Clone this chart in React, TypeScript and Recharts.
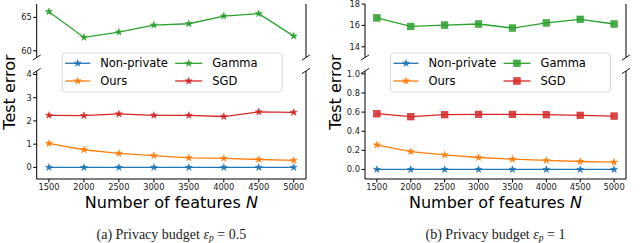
import { LineChart, Line, XAxis, YAxis, ReferenceLine } from 'recharts'

const features = [1500, 2000, 2500, 3000, 3500, 4000, 4500, 5000]
const seriesNames = ['Non-private', 'Ours', 'Gamma', 'SGD']
const seriesColors = ['#1f77b4', '#ff7f0e', '#2ca02c', '#d62728']

// (a) privacy budget 0.5
const nonPrivateA = [0, 0, 0, 0, 0, 0, 0, 0]
const oursA = [1.03, 0.76, 0.6, 0.51, 0.41, 0.39, 0.34, 0.3]
const gammaA = [65.84, 62.0, 62.8, 63.85, 64.05, 65.2, 65.55, 62.2]
const sgdA = [2.24, 2.23, 2.3, 2.24, 2.24, 2.19, 2.39, 2.37]

// (b) privacy budget 1
const nonPrivateB = [0, 0, 0, 0, 0, 0, 0, 0]
const oursB = [0.256, 0.187, 0.152, 0.125, 0.107, 0.094, 0.083, 0.076]
const gammaB = [16.7, 15.9, 16.03, 16.13, 15.75, 16.23, 16.57, 16.13]
const sgdB = [0.583, 0.552, 0.573, 0.576, 0.576, 0.573, 0.566, 0.558]

const topTicksA = [60, 65]
const lowTicksA = [0, 1, 2, 3, 4]
const topTicksB = [14, 16, 18]
const lowTicksB = [0, 0.2, 0.4, 0.6, 0.8, 1.0]

const X_DOMAIN: [number, number] = [1325, 5175]
const FONT = '"DejaVu Sans", sans-serif'
const TICK = { fontSize: 8.3, fill: '#222', fontFamily: FONT }

function starPoints(cx: number, cy: number, R: number) {
    const r = R * 0.382
    const pts: string[] = []
    for (let i = 0; i < 10; i++) {
        const a = -Math.PI / 2 + (i * Math.PI) / 5
        const rr = i % 2 === 0 ? R : r
        pts.push(`${cx + rr * Math.cos(a)},${cy + rr * Math.sin(a)}`)
    }
    return pts.join(' ')
}

function Marker({ cx, cy, color, shape }: { cx: number; cy: number; color: string; shape: string }) {
    if (cx == null || cy == null) return null
    if (shape === 'square') {
        return <rect x={cx - 3.3} y={cy - 3.3} width={6.6} height={6.6} fill={color} fillOpacity={0.85} stroke={color} strokeWidth={0.6} />
    }
    return <polygon points={starPoints(cx, cy, 3.7)} fill={color} stroke={color} strokeWidth={0.5} />
}

const dotFor = (color: string, shape: string) => (p: any) =>
    <Marker key={`d-${p.index}`} cx={p.cx} cy={p.cy} color={color} shape={shape} />

interface PanelProps {
    left: number
    plotLeft: number
    nonPrivate: number[]
    ours: number[]
    gamma: number[]
    sgd: number[]
    topDomain: [number, number]
    lowDomain: [number, number]
    topTicks: number[]
    lowTicks: number[]
    lowFormat: (v: number) => string
    shapes: string[]
    caption: string
    captionValue: string
    ylabelX: number
}

const PLOT_RIGHT = 14
const TOP_Y0 = 4
const TOP_Y1 = 57.5
const LOW_Y0 = 71
const LOW_Y1 = 179

function Panel(p: PanelProps) {
    const topData = features.map((n, i) => ({ n, gamma: p.gamma[i] }))
    const lowData = features.map((n, i) => ({ n, nonPrivate: p.nonPrivate[i], ours: p.ours[i], sgd: p.sgd[i] }))
    const xr = 320 - PLOT_RIGHT
    const lowSeries = [
        { key: 'nonPrivate', idx: 0 },
        { key: 'ours', idx: 1 },
        { key: 'sgd', idx: 3 },
    ]
    const legendX0 = p.plotLeft + 25.5
    const rows = [63.3, 81]
    const cols = [legendX0 + 3, legendX0 + 113]
    return (
        <div style={{ position: 'absolute', left: p.left, top: 0, width: 320, height: 243 }}>
            <div style={{ position: 'absolute', left: 0, top: 0 }}>
                <LineChart width={320} height={243} data={topData}
                    margin={{ top: TOP_Y0, right: PLOT_RIGHT, bottom: 243 - TOP_Y1, left: 0 }}>
                    <XAxis dataKey="n" type="number" orientation="top" domain={X_DOMAIN} ticks={features}
                        height={0} tick={false} tickSize={3.5} stroke="#000" allowDataOverflow />
                    <YAxis type="number" domain={p.topDomain} ticks={p.topTicks} width={p.plotLeft}
                        tick={TICK} tickSize={3.5} tickMargin={1.5} stroke="#000" allowDataOverflow interval={0} />
                    <ReferenceLine x={X_DOMAIN[1]} stroke="#000" strokeWidth={1} ifOverflow="visible" />
                    <Line dataKey="gamma" stroke={seriesColors[2]} strokeWidth={1.3}
                        dot={dotFor(seriesColors[2], p.shapes[2])} isAnimationActive={false} />
                </LineChart>
            </div>
            <div style={{ position: 'absolute', left: 0, top: 0 }}>
                <LineChart width={320} height={243} data={lowData}
                    margin={{ top: LOW_Y0, right: PLOT_RIGHT, bottom: 243 - LOW_Y1 - 16, left: 0 }}>
                    <XAxis dataKey="n" type="number" domain={X_DOMAIN} ticks={features} height={16}
                        tick={TICK} tickSize={3.5} tickMargin={2} stroke="#000" allowDataOverflow interval={0} />
                    <YAxis type="number" domain={p.lowDomain} ticks={p.lowTicks} width={p.plotLeft}
                        tick={TICK} tickSize={3.5} tickMargin={1.5} stroke="#000" allowDataOverflow interval={0}
                        tickFormatter={p.lowFormat} />
                    <ReferenceLine x={X_DOMAIN[1]} stroke="#000" strokeWidth={1} ifOverflow="visible" />
                    {lowSeries.map(s => (
                        <Line key={s.key} dataKey={s.key} stroke={seriesColors[s.idx]} strokeWidth={1.3}
                            dot={dotFor(seriesColors[s.idx], p.shapes[s.idx])} isAnimationActive={false} />
                    ))}
                </LineChart>
            </div>
            <svg width={320} height={243} style={{ position: 'absolute', left: 0, top: 0 }}>
                {[p.plotLeft, xr].map(x => [TOP_Y1, LOW_Y0].map(y => (
                    <line key={`${x}-${y}`} x1={x - 4} y1={y + 2.6} x2={x + 4} y2={y - 2.6} stroke="#000" strokeWidth={0.9} />
                )))}
                <text x={p.ylabelX} y={92} transform={`rotate(-90 ${p.ylabelX} 92)`} textAnchor="middle"
                    dominantBaseline="central" fontFamily={FONT} fontSize={16} fill="#000">Test error</text>
                <text x={(p.plotLeft + xr) / 2} y={207.7} textAnchor="middle" fontFamily={FONT} fontSize={16} fill="#000">
                    Number of features <tspan fontStyle="italic">N</tspan>
                </text>
                <text x={(p.plotLeft + xr) / 2} y={238.5} textAnchor="middle" fontFamily='"Liberation Serif", serif' fontSize={14} fill="#222">
                    {p.caption} <tspan fontStyle="italic">ε</tspan><tspan fontStyle="italic" fontSize={9.5} dy={2.5}>p</tspan>
                    <tspan dy={-2.5}> = {p.captionValue}</tspan>
                </text>
                <rect x={legendX0} y={53} width={220} height={39} rx={3} fill="#fff" fillOpacity={0.8} stroke="#d6d6d6" strokeWidth={0.9} />
                {seriesNames.map((name, i) => {
                    const cx = cols[i < 2 ? 0 : 1]
                    const cy = rows[i % 2]
                    const w = i < 2 ? 25 : 27
                    return (
                        <g key={name}>
                            <line x1={cx} x2={cx + w} y1={cy} y2={cy} stroke={seriesColors[i]} strokeWidth={1.3} />
                            <Marker cx={cx + w / 2} cy={cy} color={seriesColors[i]} shape={p.shapes[i]} />
                            <text x={cx + w + 10} y={cy} dominantBaseline="central" fontFamily={FONT} fontSize={11.5} fill="#000">{name}</text>
                        </g>
                    )
                })}
            </svg>
        </div>
    )
}

export default function App() {
    return (
        <div style={{ position: 'absolute', left: 0, top: 0, width: 640, height: 243, background: '#fff', overflow: 'hidden' }}>
            <Panel left={0} plotLeft={36.7} nonPrivate={nonPrivateA} ours={oursA} gamma={gammaA} sgd={sgdA}
                topDomain={[59, 67]} lowDomain={[-0.5, 4.15]} topTicks={topTicksA} lowTicks={lowTicksA}
                lowFormat={(v) => `${v}`} shapes={['star', 'star', 'star', 'star']}
                caption="(a) Privacy budget" captionValue="0.5" ylabelX={9} />
            <Panel left={320} plotLeft={45} nonPrivate={nonPrivateB} ours={oursB} gamma={gammaB} sgd={sgdB}
                topDomain={[13, 18]} lowDomain={[-0.1, 1.03]} topTicks={topTicksB} lowTicks={lowTicksB}
                lowFormat={(v) => v.toFixed(1)} shapes={['star', 'star', 'square', 'square']}
                caption="(b) Privacy budget" captionValue="1" ylabelX={15} />
        </div>
    )
}
